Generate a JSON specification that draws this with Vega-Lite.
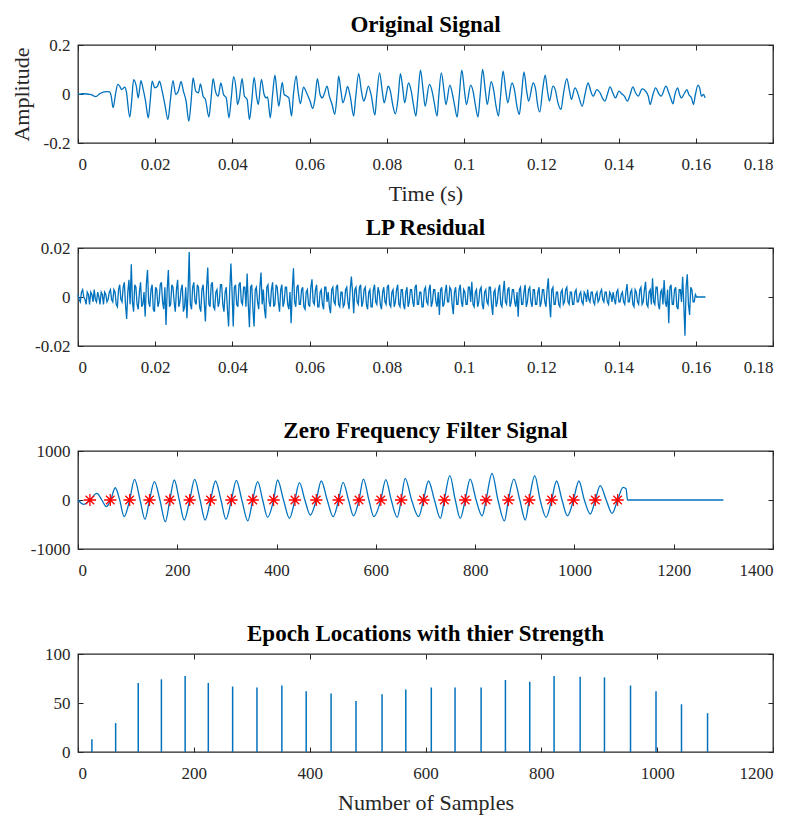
{
  "$schema": "https://vega.github.io/schema/vega-lite/v6.json",
  "background": "white",
  "padding": {"left": 9, "top": 13, "right": 5, "bottom": 5},
  "bounds": "flush",
  "spacing": 105,
  "config": {
    "font": "Liberation Serif",
    "view": {"stroke": "#262626", "strokeWidth": 1.3},
    "axis": {"labelFont": "Liberation Serif", "labelFontSize": 17, "labelColor": "#262626", "titleFont": "Liberation Serif", "titleFontSize": 22, "titleFontWeight": "normal", "titleColor": "#262626", "tickColor": "#262626", "tickSize": -5, "tickWidth": 1, "domain": false, "grid": false},
    "axisX": {"labelPadding": 18, "titlePadding": 11},
    "axisY": {"labelPadding": 13, "titlePadding": 10},
    "title": {"font": "Liberation Serif", "fontSize": 23, "fontWeight": "bold", "color": "#000000", "offset": -1, "baseline": "alphabetic"}
  },
  "datasets": {
    "orig": [
      {"t":0,"v":-0.002},{"t":0.0013,"v":0.001},{"t":0.0034,"v":-0.003},{"t":0.0046,"v":-0.011},{"t":0.0056,"v":0.001},{"t":0.0073,"v":0.010},{"t":0.0082,"v":0.009},{"t":0.0086,"v":-0.009},{"t":0.0091,"v":-0.056},{"t":0.0097,"v":-0.002},
      {"t":0.0103,"v":0.039},{"t":0.0108,"v":0.032},{"t":0.0113,"v":0.018},{"t":0.0121,"v":0.028},{"t":0.0125,"v":0.012},{"t":0.0134,"v":-0.094},{"t":0.0139,"v":-0.029},{"t":0.0144,"v":0.059},{"t":0.0151,"v":0.032},{"t":0.0156,"v":-0.016},
      {"t":0.0163,"v":0.055},{"t":0.0168,"v":0.025},{"t":0.0175,"v":-0.029},{"t":0.0182,"v":-0.097},{"t":0.0187,"v":-0.029},{"t":0.0192,"v":0.052},{"t":0.0199,"v":0.025},{"t":0.0206,"v":0.032},{"t":0.0211,"v":0.052},{"t":0.0218,"v":0.012},
      {"t":0.0225,"v":-0.043},{"t":0.0233,"v":-0.104},{"t":0.0239,"v":-0.029},{"t":0.0246,"v":0.055},{"t":0.0253,"v":-0.002},{"t":0.0260,"v":0.012},{"t":0.0267,"v":0.050},{"t":0.0273,"v":0.012},{"t":0.0280,"v":-0.029},{"t":0.0287,"v":-0.111},
      {"t":0.0293,"v":-0.029},{"t":0.0298,"v":0.066},{"t":0.0305,"v":0.012},{"t":0.0312,"v":0.005},{"t":0.0317,"v":0.041},{"t":0.0324,"v":-0.009},{"t":0.0330,"v":-0.022},{"t":0.0339,"v":-0.094},{"t":0.0344,"v":-0.029},{"t":0.0350,"v":0.063},
      {"t":0.0356,"v":0.012},{"t":0.0363,"v":-0.009},{"t":0.0370,"v":0.045},{"t":0.0377,"v":-0.002},{"t":0.0384,"v":-0.016},{"t":0.0391,"v":-0.097},{"t":0.0397,"v":-0.016},{"t":0.0403,"v":0.071},
      {"t":0.0410,"v":0.012},{"t":0.0413,"v":-0.043},{"t":0.0418,"v":-0.016},{"t":0.0425,"v":0.063},{"t":0.0431,"v":-0.009},{"t":0.0438,"v":-0.022},{"t":0.0444,"v":-0.104},{"t":0.0450,"v":-0.029},{"t":0.0456,"v":0.068},{"t":0.0463,"v":-0.016},
      {"t":0.0467,"v":-0.043},{"t":0.0475,"v":0.060},{"t":0.0482,"v":-0.002},{"t":0.0488,"v":-0.016},{"t":0.0491,"v":-0.012},{"t":0.0498,"v":-0.097},{"t":0.0504,"v":-0.002},{"t":0.0510,"v":0.077},{"t":0.0515,"v":0.012},{"t":0.0520,"v":-0.050},
      {"t":0.0529,"v":0.047},{"t":0.0534,"v":-0.002},{"t":0.0541,"v":-0.009},{"t":0.0546,"v":-0.016},{"t":0.0553,"v":-0.090},{"t":0.0558,"v":-0.002},{"t":0.0565,"v":0.074},{"t":0.0570,"v":0.012},{"t":0.0576,"v":-0.040},{"t":0.0584,"v":0.028},
      {"t":0.0593,"v":0.001},{"t":0.0601,"v":-0.029},{"t":0.0608,"v":-0.059},{"t":0.0614,"v":-0.016},{"t":0.0620,"v":0.063},{"t":0.0627,"v":-0.002},{"t":0.0633,"v":-0.016},{"t":0.0638,"v":0.001},{"t":0.0645,"v":0.032},{"t":0.0651,"v":-0.009},
      {"t":0.0658,"v":-0.043},{"t":0.0665,"v":-0.083},{"t":0.0671,"v":-0.002},{"t":0.0675,"v":0.073},{"t":0.0681,"v":0.012},{"t":0.0686,"v":-0.036},{"t":0.0693,"v":-0.002},{"t":0.0698,"v":0.031},{"t":0.0705,"v":-0.009},{"t":0.0714,"v":-0.090},
      {"t":0.0719,"v":-0.016},{"t":0.0727,"v":0.083},{"t":0.0734,"v":0.012},{"t":0.0740,"v":-0.029},{"t":0.0745,"v":-0.009},{"t":0.0752,"v":0.032},{"t":0.0759,"v":-0.002},{"t":0.0769,"v":-0.086},{"t":0.0774,"v":-0.002},{"t":0.0781,"v":0.086},
      {"t":0.0788,"v":0.012},{"t":0.0793,"v":-0.036},{"t":0.0800,"v":0.012},{"t":0.0803,"v":0.032},{"t":0.0809,"v":0.012},{"t":0.0815,"v":-0.043},{"t":0.0822,"v":-0.081},{"t":0.0829,"v":-0.016},{"t":0.0835,"v":0.083},{"t":0.0841,"v":0.025},
      {"t":0.0846,"v":-0.036},{"t":0.0856,"v":0.045},{"t":0.0863,"v":0.012},{"t":0.0868,"v":-0.036},{"t":0.0875,"v":-0.090},{"t":0.0880,"v":-0.016},{"t":0.0887,"v":0.097},{"t":0.0894,"v":0.012},{"t":0.0899,"v":-0.050},{"t":0.0910,"v":0.039},
      {"t":0.0917,"v":0.012},{"t":0.0922,"v":-0.029},{"t":0.0930,"v":-0.090},{"t":0.0934,"v":-0.016},{"t":0.0941,"v":0.086},{"t":0.0948,"v":0.012},{"t":0.0953,"v":-0.043},{"t":0.0963,"v":0.036},{"t":0.0970,"v":-0.002},{"t":0.0975,"v":-0.043},
      {"t":0.0982,"v":-0.094},{"t":0.0987,"v":-0.016},{"t":0.0994,"v":0.097},{"t":0.1001,"v":0.012},{"t":0.1006,"v":-0.043},{"t":0.1017,"v":0.036},{"t":0.1024,"v":0.005},{"t":0.1029,"v":-0.043},{"t":0.1036,"v":-0.094},{"t":0.1041,"v":-0.016},
      {"t":0.1048,"v":0.100},{"t":0.1055,"v":0.012},{"t":0.1060,"v":-0.043},{"t":0.1070,"v":0.050},{"t":0.1077,"v":0.012},{"t":0.1082,"v":-0.043},{"t":0.1089,"v":-0.090},{"t":0.1094,"v":-0.016},{"t":0.1101,"v":0.093},{"t":0.1108,"v":0.012},
      {"t":0.1113,"v":-0.036},{"t":0.1124,"v":0.045},{"t":0.1131,"v":0.012},{"t":0.1136,"v":-0.043},{"t":0.1143,"v":-0.083},{"t":0.1148,"v":-0.016},{"t":0.1155,"v":0.090},{"t":0.1162,"v":0.012},{"t":0.1167,"v":-0.029},{"t":0.1179,"v":0.045},
      {"t":0.1186,"v":0.012},{"t":0.1189,"v":-0.029},{"t":0.1196,"v":-0.073},{"t":0.1204,"v":0.025},{"t":0.1210,"v":0.077},{"t":0.1216,"v":0.012},{"t":0.1221,"v":-0.029},{"t":0.1230,"v":0.032},{"t":0.1237,"v":0.012},{"t":0.1242,"v":-0.029},
      {"t":0.1251,"v":-0.063},{"t":0.1257,"v":-0.002},{"t":0.1266,"v":0.063},{"t":0.1273,"v":0.012},{"t":0.1278,"v":-0.022},{"t":0.1287,"v":0.025},{"t":0.1294,"v":0.005},{"t":0.1299,"v":-0.022},{"t":0.1306,"v":-0.050},{"t":0.1313,"v":-0.002},
      {"t":0.1321,"v":0.045},{"t":0.1328,"v":0.012},{"t":0.1334,"v":-0.009},{"t":0.1344,"v":0.018},{"t":0.1352,"v":0.005},{"t":0.1358,"v":-0.016},{"t":0.1365,"v":-0.029},{"t":0.1371,"v":-0.002},{"t":0.1378,"v":0.029},{"t":0.1385,"v":0.005},
      {"t":0.1392,"v":-0.016},{"t":0.1401,"v":0.012},{"t":0.1408,"v":0.001},{"t":0.1415,"v":-0.009},{"t":0.1423,"v":-0.029},{"t":0.1430,"v":-0.002},{"t":0.1437,"v":0.029},{"t":0.1444,"v":0.005},{"t":0.1451,"v":-0.009},{"t":0.1461,"v":0.021},
      {"t":0.1470,"v":0.012},{"t":0.1477,"v":-0.009},{"t":0.1482,"v":-0.043},{"t":0.1489,"v":-0.002},{"t":0.1496,"v":0.025},{"t":0.1503,"v":0.005},{"t":0.1510,"v":-0.009},{"t":0.1523,"v":0.032},{"t":0.1530,"v":0.005},{"t":0.1535,"v":-0.016},
      {"t":0.1541,"v":-0.040},{"t":0.1546,"v":-0.002},{"t":0.1553,"v":0.025},{"t":0.1558,"v":-0.002},{"t":0.1563,"v":-0.016},{"t":0.1570,"v":0.001},{"t":0.1577,"v":0.018},{"t":0.1582,"v":-0.002},{"t":0.1589,"v":-0.016},{"t":0.1594,"v":-0.043},
      {"t":0.1599,"v":-0.002},{"t":0.1606,"v":0.036},{"t":0.1610,"v":0.025},{"t":0.1615,"v":-0.009},{"t":0.1620,"v":-0.002},{"t":0.1624,"v":-0.016}
    ],
    "resid": [
      {"t":0,"v":0.001},{"t":0.0003,"v":-0.001},{"t":0.0006,"v":-0.002},{"t":0.0009,"v":0.002},{"t":0.0012,"v":0.003},{"t":0.0015,"v":0},{"t":0.0018,"v":-0.001},{"t":0.0021,"v":-0.003},{"t":0.0024,"v":0.002},{"t":0.0027,"v":0.001},
      {"t":0.0030,"v":-0.003},{"t":0.0033,"v":0.002},{"t":0.0036,"v":0.001},{"t":0.0039,"v":-0.002},{"t":0.0042,"v":0.003},{"t":0.0045,"v":-0.001},{"t":0.0048,"v":-0.002},{"t":0.0051,"v":0.002},{"t":0.0054,"v":0},{"t":0.0057,"v":-0.003},
      {"t":0.0060,"v":0.002},{"t":0.0063,"v":0.001},{"t":0.0066,"v":-0.003},{"t":0.0069,"v":0.002},{"t":0.0072,"v":0.001},{"t":0.0075,"v":-0.002},{"t":0.0078,"v":-0.001},{"t":0.0081,"v":0.002},{"t":0.0084,"v":0.003},{"t":0.0087,"v":-0.001},
      {"t":0.0090,"v":-0.002},{"t":0.0093,"v":0.003},{"t":0.0096,"v":0.002},{"t":0.0099,"v":-0.003},{"t":0.0102,"v":-0.004},{"t":0.0105,"v":0.003},{"t":0.0108,"v":0.005},{"t":0.0111,"v":-0.001},{"t":0.0114,"v":-0.002},{"t":0.0117,"v":0.004},
      {"t":0.0120,"v":0.006},{"t":0.0123,"v":-0.003},{"t":0.0126,"v":-0.009},{"t":0.0129,"v":0.002},{"t":0.0132,"v":0.007},{"t":0.0135,"v":-0.003},{"t":0.0138,"v":0.0134},{"t":0.0141,"v":-0.002},{"t":0.0144,"v":-0.006},{"t":0.0147,"v":0.005},
      {"t":0.0150,"v":0.004},{"t":0.0153,"v":-0.003},{"t":0.0156,"v":-0.005},{"t":0.0159,"v":0.002},{"t":0.0162,"v":0.006},{"t":0.0165,"v":-0.004},{"t":0.0168,"v":-0.003},{"t":0.0171,"v":0.002},{"t":0.0174,"v":-0.008},{"t":0.0177,"v":0.005},
      {"t":0.0180,"v":0.011},{"t":0.0183,"v":-0.002},{"t":0.0186,"v":-0.004},{"t":0.0189,"v":0.003},{"t":0.0192,"v":0.005},{"t":0.0195,"v":-0.005},{"t":0.0198,"v":-0.006},{"t":0.0201,"v":0.004},{"t":0.0204,"v":0.003},{"t":0.0207,"v":-0.004},
      {"t":0.0210,"v":-0.002},{"t":0.0213,"v":0.005},{"t":0.0216,"v":0.006},{"t":0.0219,"v":-0.002},{"t":0.0222,"v":-0.005},{"t":0.0225,"v":0.004},{"t":0.0228,"v":-0.0114},{"t":0.0231,"v":0.003},{"t":0.0234,"v":0.011},{"t":0.0237,"v":-0.004},
      {"t":0.0240,"v":-0.003},{"t":0.0243,"v":0.005},{"t":0.0246,"v":0.004},{"t":0.0249,"v":-0.002},{"t":0.0252,"v":-0.006},{"t":0.0255,"v":0.003},{"t":0.0258,"v":0.007},{"t":0.0261,"v":-0.004},{"t":0.0264,"v":-0.002},{"t":0.0267,"v":0.003},
      {"t":0.0270,"v":0.005},{"t":0.0273,"v":-0.006},{"t":0.0276,"v":-0.004},{"t":0.0279,"v":0.004},{"t":0.0282,"v":-0.0087},{"t":0.0285,"v":0.002},{"t":0.0288,"v":0.0184},{"t":0.0291,"v":-0.003},{"t":0.0294,"v":-0.005},{"t":0.0297,"v":0.004},
      {"t":0.0300,"v":0.006},{"t":0.0303,"v":-0.002},{"t":0.0306,"v":-0.003},{"t":0.0309,"v":0.005},{"t":0.0312,"v":0.004},{"t":0.0315,"v":-0.004},{"t":0.0318,"v":-0.006},{"t":0.0321,"v":0.003},{"t":0.0324,"v":0.005},{"t":0.0327,"v":-0.002},
      {"t":0.0330,"v":-0.010},{"t":0.0333,"v":0.004},{"t":0.0336,"v":0.012},{"t":0.0339,"v":-0.003},{"t":0.0342,"v":-0.004},{"t":0.0345,"v":0.005},{"t":0.0348,"v":0.006},{"t":0.0351,"v":-0.004},{"t":0.0354,"v":-0.005},{"t":0.0357,"v":0.002},
      {"t":0.0360,"v":0.003},{"t":0.0363,"v":-0.004},{"t":0.0366,"v":-0.002},{"t":0.0369,"v":0.005},{"t":0.0372,"v":0.005},{"t":0.0375,"v":-0.003},{"t":0.0378,"v":-0.006},{"t":0.0381,"v":0.002},{"t":0.0384,"v":0.004},{"t":0.0387,"v":-0.005},
      {"t":0.0390,"v":-0.012},{"t":0.0393,"v":0.003},{"t":0.0396,"v":0.0137},{"t":0.0399,"v":0.002},{"t":0.0402,"v":-0.012},{"t":0.0405,"v":0.004},{"t":0.0408,"v":0.005},{"t":0.0411,"v":-0.003},{"t":0.0414,"v":-0.004},{"t":0.0417,"v":0.005},
      {"t":0.0420,"v":0.006},{"t":0.0423,"v":-0.002},{"t":0.0426,"v":-0.003},{"t":0.0429,"v":0.004},{"t":0.0432,"v":0.004},{"t":0.0435,"v":-0.004},{"t":0.0438,"v":0.0096},{"t":0.0441,"v":-0.003},{"t":0.0444,"v":-0.0123},{"t":0.0447,"v":0.004},
      {"t":0.0450,"v":0.005},{"t":0.0453,"v":-0.005},{"t":0.0456,"v":-0.012},{"t":0.0459,"v":0.003},{"t":0.0462,"v":0.004},{"t":0.0465,"v":-0.002},{"t":0.0468,"v":-0.005},{"t":0.0471,"v":0.004},{"t":0.0474,"v":0.010},{"t":0.0477,"v":-0.003},
      {"t":0.0480,"v":0.003},{"t":0.0483,"v":-0.005},{"t":0.0486,"v":-0.0087},{"t":0.0489,"v":0.004},{"t":0.0492,"v":0.005},{"t":0.0495,"v":-0.002},{"t":0.0498,"v":-0.004},{"t":0.0501,"v":0.003},{"t":0.0504,"v":0.006},{"t":0.0507,"v":-0.004},
      {"t":0.0510,"v":-0.003},{"t":0.0513,"v":0.005},{"t":0.0516,"v":0.004},{"t":0.0519,"v":-0.002},{"t":0.0522,"v":-0.006},{"t":0.0525,"v":0.003},{"t":0.0528,"v":0.005},{"t":0.0531,"v":-0.004},{"t":0.0534,"v":-0.002},{"t":0.0537,"v":0.004},
      {"t":0.0540,"v":0.004},{"t":0.0543,"v":-0.003},{"t":0.0546,"v":-0.005},{"t":0.0549,"v":0.002},{"t":0.0552,"v":-0.0107},{"t":0.0555,"v":0.003},{"t":0.0558,"v":0.0117},{"t":0.0561,"v":-0.002},{"t":0.0564,"v":-0.004},{"t":0.0567,"v":0.004},
      {"t":0.0570,"v":0.005},{"t":0.0573,"v":-0.003},{"t":0.0576,"v":-0.003},{"t":0.0579,"v":0.003},{"t":0.0582,"v":0.004},{"t":0.0585,"v":-0.004},{"t":0.0588,"v":-0.005},{"t":0.0591,"v":0.002},{"t":0.0594,"v":0.003},{"t":0.0597,"v":-0.003},
      {"t":0.0600,"v":-0.004},{"t":0.0603,"v":0.004},{"t":0.0606,"v":0.0072},{"t":0.0609,"v":-0.002},{"t":0.0612,"v":-0.003},{"t":0.0615,"v":0.003},{"t":0.0618,"v":0.005},{"t":0.0621,"v":-0.004},{"t":0.0624,"v":-0.004},{"t":0.0627,"v":0.002},
      {"t":0.0630,"v":0.003},{"t":0.0633,"v":-0.003},{"t":0.0636,"v":-0.005},{"t":0.0639,"v":0.004},{"t":0.0642,"v":0.004},{"t":0.0645,"v":-0.002},{"t":0.0648,"v":0.002},{"t":0.0651,"v":-0.004},{"t":0.0654,"v":-0.0066},{"t":0.0657,"v":0.003},
      {"t":0.0660,"v":0.004},{"t":0.0663,"v":-0.002},{"t":0.0666,"v":-0.003},{"t":0.0669,"v":0.004},{"t":0.0672,"v":0.005},{"t":0.0675,"v":-0.003},{"t":0.0678,"v":-0.004},{"t":0.0681,"v":0.002},{"t":0.0684,"v":0.002},{"t":0.0687,"v":-0.004},
      {"t":0.0690,"v":-0.003},{"t":0.0693,"v":0.003},{"t":0.0696,"v":0.004},{"t":0.0699,"v":-0.002},{"t":0.0702,"v":-0.005},{"t":0.0705,"v":0.003},{"t":0.0708,"v":0.0083},{"t":0.0711,"v":0.002},{"t":0.0714,"v":-0.0066},{"t":0.0717,"v":0.003},
      {"t":0.0720,"v":0.004},{"t":0.0723,"v":-0.002},{"t":0.0726,"v":-0.003},{"t":0.0729,"v":0.004},{"t":0.0732,"v":0.005},{"t":0.0735,"v":-0.004},{"t":0.0738,"v":-0.002},{"t":0.0741,"v":0.003},{"t":0.0744,"v":0.004},{"t":0.0747,"v":-0.003},
      {"t":0.0750,"v":-0.005},{"t":0.0753,"v":0.002},{"t":0.0756,"v":0.003},{"t":0.0759,"v":-0.004},{"t":0.0762,"v":-0.004},{"t":0.0765,"v":0.003},{"t":0.0768,"v":0.005},{"t":0.0771,"v":-0.002},{"t":0.0774,"v":-0.003},{"t":0.0777,"v":0.004},
      {"t":0.0780,"v":0.002},{"t":0.0783,"v":-0.003},{"t":0.0786,"v":-0.005},{"t":0.0789,"v":0.002},{"t":0.0792,"v":0.004},{"t":0.0795,"v":-0.002},{"t":0.0798,"v":-0.003},{"t":0.0801,"v":0.004},{"t":0.0804,"v":0.005},{"t":0.0807,"v":-0.003},
      {"t":0.0810,"v":-0.004},{"t":0.0813,"v":0.002},{"t":0.0816,"v":0.003},{"t":0.0819,"v":-0.004},{"t":0.0822,"v":-0.002},{"t":0.0825,"v":0.003},{"t":0.0828,"v":0.005},{"t":0.0831,"v":-0.003},{"t":0.0834,"v":-0.004},{"t":0.0837,"v":0.003},
      {"t":0.0840,"v":0.003},{"t":0.0843,"v":-0.003},{"t":0.0846,"v":-0.005},{"t":0.0849,"v":0.002},{"t":0.0852,"v":0.004},{"t":0.0855,"v":-0.004},{"t":0.0858,"v":-0.002},{"t":0.0861,"v":0.003},{"t":0.0864,"v":0.003},{"t":0.0867,"v":-0.002},
      {"t":0.0870,"v":-0.004},{"t":0.0873,"v":0.004},{"t":0.0876,"v":0.005},{"t":0.0879,"v":-0.003},{"t":0.0882,"v":-0.003},{"t":0.0885,"v":0.002},{"t":0.0888,"v":0.002},{"t":0.0891,"v":-0.004},{"t":0.0894,"v":-0.004},{"t":0.0897,"v":0.003},
      {"t":0.0900,"v":0.004},{"t":0.0903,"v":-0.002},{"t":0.0906,"v":-0.003},{"t":0.0909,"v":0.003},{"t":0.0912,"v":0.005},{"t":0.0915,"v":-0.004},{"t":0.0918,"v":-0.002},{"t":0.0921,"v":0.003},{"t":0.0924,"v":0.003},{"t":0.0927,"v":-0.002},
      {"t":0.0930,"v":-0.004},{"t":0.0933,"v":0.002},{"t":0.0936,"v":-0.0073},{"t":0.0939,"v":0.003},{"t":0.0942,"v":0.004},{"t":0.0945,"v":-0.004},{"t":0.0948,"v":-0.003},{"t":0.0951,"v":0.002},{"t":0.0954,"v":0.005},{"t":0.0957,"v":-0.002},
      {"t":0.0960,"v":-0.002},{"t":0.0963,"v":0.004},{"t":0.0966,"v":0.003},{"t":0.0969,"v":-0.003},{"t":0.0972,"v":-0.007},{"t":0.0975,"v":0.002},{"t":0.0978,"v":0.004},{"t":0.0981,"v":-0.003},{"t":0.0984,"v":-0.003},{"t":0.0987,"v":0.003},
      {"t":0.0990,"v":0.005},{"t":0.0993,"v":-0.002},{"t":0.0996,"v":-0.004},{"t":0.0999,"v":0.003},{"t":0.1002,"v":0.002},{"t":0.1005,"v":-0.003},{"t":0.1008,"v":-0.003},{"t":0.1011,"v":0.004},{"t":0.1014,"v":0.004},{"t":0.1017,"v":-0.002},
      {"t":0.1020,"v":0.0062},{"t":0.1023,"v":-0.003},{"t":0.1026,"v":-0.004},{"t":0.1029,"v":0.002},{"t":0.1032,"v":0.003},{"t":0.1035,"v":-0.004},{"t":0.1038,"v":-0.002},{"t":0.1041,"v":0.003},{"t":0.1044,"v":0.004},{"t":0.1047,"v":-0.003},
      {"t":0.1050,"v":-0.005},{"t":0.1053,"v":0.002},{"t":0.1056,"v":0.003},{"t":0.1059,"v":-0.002},{"t":0.1062,"v":-0.003},{"t":0.1065,"v":0.004},{"t":0.1068,"v":0.004},{"t":0.1071,"v":-0.003},{"t":0.1074,"v":-0.0073},{"t":0.1077,"v":0.002},
      {"t":0.1080,"v":0.003},{"t":0.1083,"v":-0.004},{"t":0.1086,"v":-0.002},{"t":0.1089,"v":0.003},{"t":0.1092,"v":0.005},{"t":0.1095,"v":-0.003},{"t":0.1098,"v":-0.004},{"t":0.1101,"v":0.002},{"t":0.1104,"v":0.0066},{"t":0.1107,"v":-0.002},
      {"t":0.1110,"v":-0.003},{"t":0.1113,"v":0.003},{"t":0.1116,"v":0.004},{"t":0.1119,"v":-0.004},{"t":0.1122,"v":-0.002},{"t":0.1125,"v":0.003},{"t":0.1128,"v":0.003},{"t":0.1131,"v":-0.002},{"t":0.1134,"v":-0.004},{"t":0.1137,"v":0.002},
      {"t":0.1140,"v":-0.008},{"t":0.1143,"v":0.003},{"t":0.1146,"v":0.004},{"t":0.1149,"v":-0.003},{"t":0.1152,"v":-0.003},{"t":0.1155,"v":0.002},{"t":0.1158,"v":0.005},{"t":0.1161,"v":-0.004},{"t":0.1164,"v":-0.002},{"t":0.1167,"v":0.003},
      {"t":0.1170,"v":0.004},{"t":0.1173,"v":-0.002},{"t":0.1176,"v":-0.004},{"t":0.1179,"v":0.003},{"t":0.1182,"v":0.003},{"t":0.1185,"v":-0.003},{"t":0.1188,"v":-0.003},{"t":0.1191,"v":0.002},{"t":0.1194,"v":0.004},{"t":0.1197,"v":-0.004},
      {"t":0.1200,"v":-0.002},{"t":0.1203,"v":0.003},{"t":0.1206,"v":0.003},{"t":0.1209,"v":-0.002},{"t":0.1212,"v":-0.004},{"t":0.1215,"v":0.003},{"t":0.1218,"v":0.0076},{"t":0.1221,"v":-0.002},{"t":0.1224,"v":-0.0083},{"t":0.1227,"v":0.003},
      {"t":0.1230,"v":0.004},{"t":0.1233,"v":-0.003},{"t":0.1236,"v":-0.003},{"t":0.1239,"v":0.002},{"t":0.1242,"v":0.002},{"t":0.1245,"v":-0.003},{"t":0.1248,"v":-0.004},{"t":0.1251,"v":0.002},{"t":0.1254,"v":0.003},{"t":0.1257,"v":-0.003},
      {"t":0.1260,"v":-0.002},{"t":0.1263,"v":0.003},{"t":0.1266,"v":0.004},{"t":0.1269,"v":-0.002},{"t":0.1272,"v":-0.003},{"t":0.1275,"v":0.002},{"t":0.1278,"v":0.002},{"t":0.1281,"v":-0.003},{"t":0.1284,"v":-0.003},{"t":0.1287,"v":0.002},
      {"t":0.1290,"v":0.003},{"t":0.1293,"v":-0.002},{"t":0.1296,"v":-0.002},{"t":0.1299,"v":0.001},{"t":0.1302,"v":0.002},{"t":0.1305,"v":-0.002},{"t":0.1308,"v":-0.003},{"t":0.1311,"v":0.002},{"t":0.1314,"v":0.001},{"t":0.1317,"v":-0.002},
      {"t":0.1320,"v":0.003},{"t":0.1323,"v":-0.001},{"t":0.1326,"v":-0.002},{"t":0.1329,"v":0.002},{"t":0.1332,"v":0.002},{"t":0.1335,"v":-0.002},{"t":0.1338,"v":-0.003},{"t":0.1341,"v":0.001},{"t":0.1344,"v":0.002},{"t":0.1347,"v":-0.002},
      {"t":0.1350,"v":-0.001},{"t":0.1353,"v":0.002},{"t":0.1356,"v":0.003},{"t":0.1359,"v":-0.001},{"t":0.1362,"v":-0.002},{"t":0.1365,"v":0.002},{"t":0.1368,"v":0.002},{"t":0.1371,"v":-0.002},{"t":0.1374,"v":-0.003},{"t":0.1377,"v":0.002},
      {"t":0.1380,"v":0.001},{"t":0.1383,"v":-0.002},{"t":0.1386,"v":0.002},{"t":0.1389,"v":-0.001},{"t":0.1392,"v":-0.003},{"t":0.1395,"v":0.002},{"t":0.1398,"v":0.003},{"t":0.1401,"v":-0.002},{"t":0.1404,"v":-0.002},{"t":0.1407,"v":0.001},
      {"t":0.1410,"v":0.002},{"t":0.1413,"v":-0.002},{"t":0.1416,"v":-0.003},{"t":0.1419,"v":0.002},{"t":0.1422,"v":0.0053},{"t":0.1425,"v":-0.002},{"t":0.1428,"v":-0.002},{"t":0.1431,"v":0.002},{"t":0.1434,"v":0.003},{"t":0.1437,"v":-0.003},
      {"t":0.1440,"v":-0.004},{"t":0.1443,"v":0.003},{"t":0.1446,"v":0.002},{"t":0.1449,"v":-0.002},{"t":0.1452,"v":-0.003},{"t":0.1455,"v":0.003},{"t":0.1458,"v":0.004},{"t":0.1461,"v":-0.003},{"t":0.1464,"v":-0.002},{"t":0.1467,"v":0.003},
      {"t":0.1470,"v":0.0062},{"t":0.1473,"v":-0.003},{"t":0.1476,"v":-0.004},{"t":0.1479,"v":0.002},{"t":0.1482,"v":0.003},{"t":0.1485,"v":-0.003},{"t":0.1488,"v":0.0076},{"t":0.1491,"v":-0.002},{"t":0.1494,"v":-0.003},{"t":0.1497,"v":0.004},
      {"t":0.1500,"v":0.004},{"t":0.1503,"v":-0.003},{"t":0.1506,"v":-0.005},{"t":0.1509,"v":0.002},{"t":0.1512,"v":0.003},{"t":0.1515,"v":-0.003},{"t":0.1518,"v":0.0069},{"t":0.1521,"v":-0.002},{"t":0.1524,"v":-0.004},{"t":0.1527,"v":0.003},
      {"t":0.1530,"v":-0.0107},{"t":0.1533,"v":0.004},{"t":0.1536,"v":0.005},{"t":0.1539,"v":-0.003},{"t":0.1542,"v":-0.003},{"t":0.1545,"v":0.003},{"t":0.1548,"v":0.004},{"t":0.1551,"v":-0.004},{"t":0.1554,"v":-0.005},{"t":0.1557,"v":0.003},
      {"t":0.1560,"v":0.003},{"t":0.1563,"v":-0.002},{"t":0.1566,"v":0.0083},{"t":0.1569,"v":-0.003},{"t":0.1572,"v":-0.0158},{"t":0.1575,"v":0.004},{"t":0.1578,"v":0.0093},{"t":0.1581,"v":-0.003},{"t":0.1584,"v":-0.0073},{"t":0.1587,"v":0.004},
      {"t":0.1590,"v":0.003},{"t":0.1593,"v":-0.002},{"t":0.1596,"v":-0.002},{"t":0.1599,"v":0.001},{"t":0.1602,"v":0},{"t":0.1625,"v":0}
    ],
    "zff": [
      {"n":0,"a":0},{"n":12,"a":-90},{"n":24,"a":0},{"n":38,"a":136},{"n":48,"a":0},{"n":57,"a":-136},{"n":66,"a":0},{"n":75,"a":250},{"n":84,"a":0},{"n":93,"a":-340},
      {"n":104,"a":0},{"n":114,"a":420},{"n":125,"a":0},{"n":135,"a":-394},{"n":144,"a":0},{"n":154,"a":374},{"n":165,"a":0},{"n":176,"a":-442},{"n":185,"a":0},{"n":194,"a":408},
      {"n":204,"a":0},{"n":214,"a":-408},{"n":225,"a":0},{"n":235,"a":420},{"n":246,"a":0},{"n":256,"a":-408},{"n":267,"a":0},{"n":277,"a":388},{"n":288,"a":0},{"n":298,"a":-394},
      {"n":309,"a":0},{"n":319,"a":400},{"n":330,"a":0},{"n":342,"a":-428},{"n":352,"a":0},{"n":362,"a":374},{"n":372,"a":0},{"n":382,"a":-354},{"n":394,"a":0},{"n":402,"a":408},
      {"n":414,"a":0},{"n":426,"a":-374},{"n":437,"a":0},{"n":446,"a":354},{"n":457,"a":0},{"n":468,"a":-306},{"n":480,"a":0},{"n":490,"a":388},{"n":502,"a":0},{"n":514,"a":-340},
      {"n":525,"a":0},{"n":534,"a":360},{"n":545,"a":0},{"n":555,"a":-326},{"n":566,"a":0},{"n":575,"a":428},{"n":586,"a":0},{"n":596,"a":-340},{"n":610,"a":0},{"n":620,"a":415},
      {"n":631,"a":0},{"n":643,"a":-354},{"n":651,"a":0},{"n":659,"a":442},{"n":672,"a":0},{"n":686,"a":-340},{"n":696,"a":0},{"n":706,"a":388},{"n":718,"a":0},{"n":730,"a":-374},
      {"n":738,"a":0},{"n":749,"a":496},{"n":760,"a":0},{"n":770,"a":-374},{"n":780,"a":0},{"n":790,"a":428},{"n":802,"a":0},{"n":814,"a":-326},{"n":822,"a":0},{"n":834,"a":544},
      {"n":846,"a":0},{"n":859,"a":-428},{"n":867,"a":0},{"n":878,"a":428},{"n":890,"a":0},{"n":901,"a":-408},{"n":909,"a":0},{"n":920,"a":496},{"n":931,"a":0},{"n":943,"a":-354},
      {"n":954,"a":0},{"n":964,"a":388},{"n":975,"a":0},{"n":986,"a":-326},{"n":998,"a":0},{"n":1009,"a":388},{"n":1020,"a":0},{"n":1032,"a":-286},{"n":1042,"a":0},{"n":1052,"a":292},
      {"n":1064,"a":0},{"n":1076,"a":-272},{"n":1087,"a":0},{"n":1098,"a":258},{"n":1104,"a":230},{"n":1107,"a":0},{"n":1300,"a":0}
    ],
    "epochs": [
      {"pos":24,"str":13.1},{"pos":65,"str":29.5},{"pos":104,"str":70.5},{"pos":144,"str":74.2},{"pos":185,"str":77.5},{"pos":225,"str":70.5},{"pos":267,"str":66.8},{"pos":309,"str":65.8},{"pos":352,"str":67.8},{"pos":394,"str":62.1},
      {"pos":437,"str":59.7},{"pos":480,"str":52},{"pos":525,"str":59},{"pos":566,"str":63.8},{"pos":610,"str":65.8},{"pos":651,"str":65.8},{"pos":696,"str":65.8},{"pos":738,"str":73.5},{"pos":780,"str":71.8},{"pos":822,"str":77.5},
      {"pos":867,"str":76.8},{"pos":909,"str":76.2},{"pos":954,"str":67.8},{"pos":998,"str":62.1},{"pos":1042,"str":48.7},{"pos":1087,"str":39.6}
    ]
  },
  "vconcat": [
    {
      "title": "Original Signal",
      "width": 695, "height": 98,
      "data": {"name": "orig"},
      "layer": [
        {
          "mark": {"type": "line", "interpolate": "monotone", "color": "#0072BD", "strokeWidth": 1.3},
          "encoding": {
            "x": {"field": "t", "type": "quantitative", "scale": {"domain": [0, 0.18], "nice": false}, "axis": {"orient": "bottom", "values": [0,0.02,0.04,0.06,0.08,0.1,0.12,0.14,0.16,0.18], "labelExpr": "datum.value < 0 ? '-' + format(-datum.value, '~g') : format(datum.value, '~g')", "title": "Time (s)"}},
            "y": {"field": "v", "type": "quantitative", "scale": {"domain": [-0.2, 0.2], "nice": false}, "axis": {"orient": "left", "values": [-0.2,0,0.2], "labelExpr": "datum.value < 0 ? '-' + format(-datum.value, '~g') : format(datum.value, '~g')", "title": "Amplitude"}}
          }
        },
        {
          "mark": {"type": "point", "opacity": 0},
          "encoding": {
            "x": {"field": "t", "type": "quantitative", "axis": {"orient": "top", "values": [0,0.02,0.04,0.06,0.08,0.1,0.12,0.14,0.16,0.18], "labels": false, "title": null}},
            "y": {"field": "v", "type": "quantitative", "axis": {"orient": "right", "values": [-0.2,0,0.2], "labels": false, "title": null}}
          }
        }
      ],
      "resolve": {"axis": {"x": "independent", "y": "independent"}}
    },
    {
      "title": "LP Residual",
      "width": 695, "height": 98,
      "data": {"name": "resid"},
      "layer": [
        {
          "mark": {"type": "line", "color": "#0072BD", "strokeWidth": 1.3},
          "encoding": {
            "x": {"field": "t", "type": "quantitative", "scale": {"domain": [0, 0.18], "nice": false}, "axis": {"orient": "bottom", "values": [0,0.02,0.04,0.06,0.08,0.1,0.12,0.14,0.16,0.18], "labelExpr": "datum.value < 0 ? '-' + format(-datum.value, '~g') : format(datum.value, '~g')", "title": null}},
            "y": {"field": "v", "type": "quantitative", "scale": {"domain": [-0.02, 0.02], "nice": false}, "axis": {"orient": "left", "values": [-0.02,0,0.02], "labelExpr": "datum.value < 0 ? '-' + format(-datum.value, '~g') : format(datum.value, '~g')", "title": null}}
          }
        },
        {
          "mark": {"type": "point", "opacity": 0},
          "encoding": {
            "x": {"field": "t", "type": "quantitative", "axis": {"orient": "top", "values": [0,0.02,0.04,0.06,0.08,0.1,0.12,0.14,0.16,0.18], "labels": false, "title": null}},
            "y": {"field": "v", "type": "quantitative", "axis": {"orient": "right", "values": [-0.02,0,0.02], "labels": false, "title": null}}
          }
        }
      ],
      "resolve": {"axis": {"x": "independent", "y": "independent"}}
    },
    {
      "title": "Zero Frequency Filter Signal",
      "width": 695, "height": 98,
      "layer": [
        {
          "data": {"name": "zff"},
          "mark": {"type": "line", "interpolate": "monotone", "color": "#0072BD", "strokeWidth": 1.3},
          "encoding": {
            "x": {"field": "n", "type": "quantitative", "scale": {"domain": [0, 1400], "nice": false}, "axis": {"orient": "bottom", "values": [0,200,400,600,800,1000,1200,1400], "labelExpr": "format(datum.value, '~g')", "title": null}},
            "y": {"field": "a", "type": "quantitative", "scale": {"domain": [-1000, 1000], "nice": false}, "axis": {"orient": "left", "values": [-1000,0,1000], "labelExpr": "datum.value < 0 ? '-' + format(-datum.value, '~g') : format(datum.value, '~g')", "title": null}}
          }
        },
        {
          "data": {"name": "zff"},
          "mark": {"type": "point", "opacity": 0},
          "encoding": {
            "x": {"field": "n", "type": "quantitative", "axis": {"orient": "top", "values": [0,200,400,600,800,1000,1200,1400], "labels": false, "title": null}},
            "y": {"field": "a", "type": "quantitative", "axis": {"orient": "right", "values": [-1000,0,1000], "labels": false, "title": null}}
          }
        },
        {
          "data": {"name": "epochs"},
          "mark": {"type": "point", "shape": "M-1,0L1,0M0,-1L0,1M-0.7,-0.7L0.7,0.7M-0.7,0.7L0.7,-0.7", "filled": false, "stroke": "#FF0000", "strokeWidth": 1.3, "size": 150, "opacity": 1},
          "encoding": {
            "x": {"field": "pos", "type": "quantitative", "axis": null},
            "y": {"datum": 0, "type": "quantitative", "axis": null}
          }
        }
      ],
      "resolve": {"axis": {"x": "independent", "y": "independent"}}
    },
    {
      "title": "Epoch Locations with thier Strength",
      "width": 695, "height": 98,
      "data": {"name": "epochs"},
      "layer": [
        {
          "mark": {"type": "rule", "color": "#0072BD", "strokeWidth": 1.5},
          "encoding": {
            "x": {"field": "pos", "type": "quantitative", "scale": {"domain": [0, 1200], "nice": false}, "axis": {"orient": "bottom", "values": [0,200,400,600,800,1000,1200], "labelExpr": "format(datum.value, '~g')", "title": "Number of Samples"}},
            "y": {"field": "str", "type": "quantitative", "scale": {"domain": [0, 100], "nice": false}, "axis": {"orient": "left", "values": [0,50,100], "labelExpr": "format(datum.value, '~g')", "title": null}},
            "y2": {"datum": 0}
          }
        },
        {
          "mark": {"type": "point", "opacity": 0},
          "encoding": {
            "x": {"field": "pos", "type": "quantitative", "axis": {"orient": "top", "values": [0,200,400,600,800,1000,1200], "labels": false, "title": null}},
            "y": {"field": "str", "type": "quantitative", "axis": {"orient": "right", "values": [0,50,100], "labels": false, "title": null}}
          }
        }
      ],
      "resolve": {"axis": {"x": "independent", "y": "independent"}}
    }
  ]
}
